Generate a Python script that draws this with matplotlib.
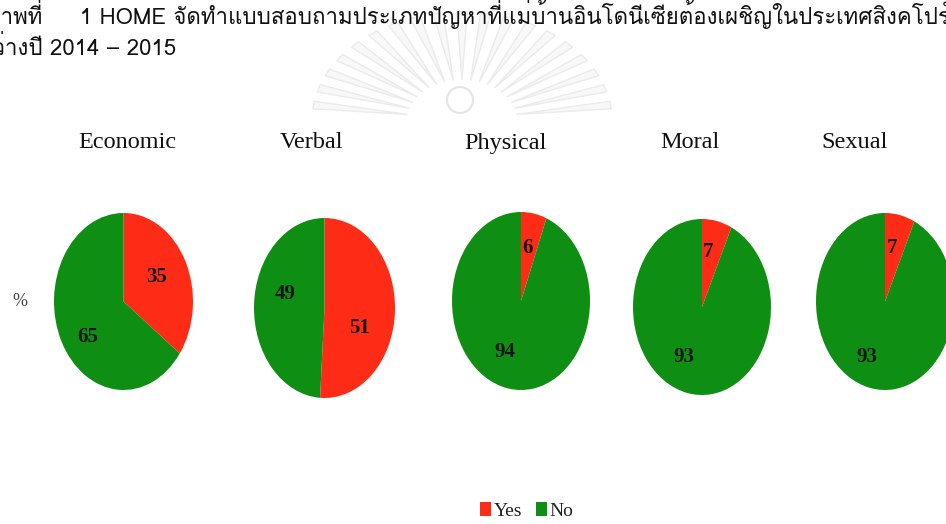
import numpy as np
import matplotlib
matplotlib.use("Agg")
import matplotlib.pyplot as plt
from matplotlib import font_manager as fm
from matplotlib.ft2font import FT2Font
from matplotlib.patches import Polygon, Circle

# ---------------- data ----------------
categories = ["Economic", "Verbal", "Physical", "Moral", "Sexual"]
yes_values = [35, 51, 6, 7, 7]
no_values = [65, 49, 94, 93, 93]
series_names = ["Yes", "No"]
caption_line1 = "ภาพที่     1 HOME จัดทำแบบสอบถามประเภทปัญหาที่แม่บ้านอินโดนีเซียต้องเผชิญในประเทศสิงคโปร์"
caption_line2 = "ระหว่างปี 2014 – 2015"
unit_label = "%"

# ---------------- style ----------------
W, H = 946, 524
RED = "#FE2C17"
GREEN = "#0E8E12"
SERIF = ["Liberation Serif", "DejaVu Serif"]

# find a font with Thai glyphs
thai_font = None
for f in fm.fontManager.ttflist:
    try:
        ft = FT2Font(f.fname)
        if ft.get_char_index(ord("ก")) and ft.get_char_index(ord("A")):
            thai_font = f.name
            break
    except Exception:
        pass
thai_family = [thai_font, "DejaVu Sans"] if thai_font else ["DejaVu Sans"]

# pie boxes in pixels: (left, top, width, height)
boxes = [(54, 213, 139, 177), (254, 218, 141, 180), (452, 212, 138, 178),
         (633, 219, 138, 176), (816, 213, 138, 177)]
title_x = [127, 311, 505, 690, 855]
title_y = 143
# label positions relative to pie (x, y in radius units) for Yes / No
label_rel = [[(0.48, 0.28), (-0.51, -0.40)],
             [(0.50, -0.22), (-0.56, 0.16)],
             [(0.09, 0.60), (-0.24, -0.57)],
             [(0.09, 0.62), (-0.26, -0.57)],
             [(0.10, 0.60), (-0.26, -0.63)]]

fig = plt.figure(figsize=(W / 100, H / 100), dpi=100)
fig.patch.set_facecolor("white")

# background overlay axes in pixel coordinates (watermark + captions)
bg = fig.add_axes([0, 0, 1, 1])
bg.set_xlim(0, W)
bg.set_ylim(H, 0)
bg.axis("off")

# faint watermark rays
cx, cy = 462, 120
for ang in np.linspace(8, 172, 19):
    a = np.deg2rad(ang)
    rx0, ry0 = 55, 40
    rx1, ry1 = 150, 108
    half = np.deg2rad(2.0)
    pts = [(cx + rx0 * np.cos(a), cy - ry0 * np.sin(a)),
           (cx + rx1 * np.cos(a - half), cy - ry1 * np.sin(a - half)),
           (cx + rx1 * np.cos(a + half), cy - ry1 * np.sin(a + half))]
    bg.add_patch(Polygon(pts, closed=True, facecolor="#f8f8f8",
                         edgecolor="#ebebeb", lw=1.0, zorder=0))
bg.add_patch(Circle((460, 100), 13, facecolor="none", edgecolor="#e6e6e6", lw=1.5, zorder=0))

# captions
fig.canvas.draw()
renderer = fig.canvas.get_renderer()
t1 = bg.text(-14, 24, caption_line1, family=thai_family, fontsize=16,
             color="#111111", va="baseline", ha="left")
pref = bg.text(0, 0, caption_line2[:5], family=thai_family, fontsize=16, alpha=0)
pw = pref.get_window_extent(renderer).width
pref.remove()
t2 = bg.text(-pw + 5, 55, caption_line2, family=thai_family, fontsize=16,
             color="#111111", va="baseline", ha="left")

for i, cat in enumerate(categories):
    l, t, w, h = boxes[i]
    ax = fig.add_axes([l / W, 1 - (t + h) / H, w / W, h / H])
    wedges, texts = ax.pie([yes_values[i], no_values[i]],
                           labels=[str(yes_values[i]), str(no_values[i])],
                           colors=[RED, GREEN], startangle=90, counterclock=False,
                           labeldistance=0.6,
                           wedgeprops=dict(linewidth=0),
                           textprops=dict(family=SERIF, fontweight="bold",
                                          fontsize=15, color="#151515",
                                          ha="center", va="center"))
    ax.set_aspect("auto")
    ax.set_xlim(-1.0, 1.0)
    ax.set_ylim(-1.0, 1.0)
    for w_ in wedges:
        w_.set_clip_on(False)
    for txt, pos in zip(texts, label_rel[i]):
        txt.set_position(pos)
        txt.set_ha("center")
        txt.set_va("center")
    bg.text(title_x[i], title_y, cat, family=SERIF, fontsize=17.5,
            color="#111111", ha="center", va="center")
    if i == 0:
        legend_handles = wedges

bg.text(20, 301, unit_label, family=SERIF, fontsize=13, color="#444444",
        ha="center", va="center")

leg = fig.legend(legend_handles, series_names, loc="center",
                 bbox_to_anchor=(527 / W, 1 - 511 / H), ncol=2, frameon=False,
                 handlelength=0.55, handleheight=0.75, handletextpad=0.15,
                 columnspacing=0.7, prop=dict(family=SERIF, size=14))
for txt in leg.get_texts():
    txt.set_color("#222222")

fig.savefig("out.png", dpi=100, facecolor="white")
